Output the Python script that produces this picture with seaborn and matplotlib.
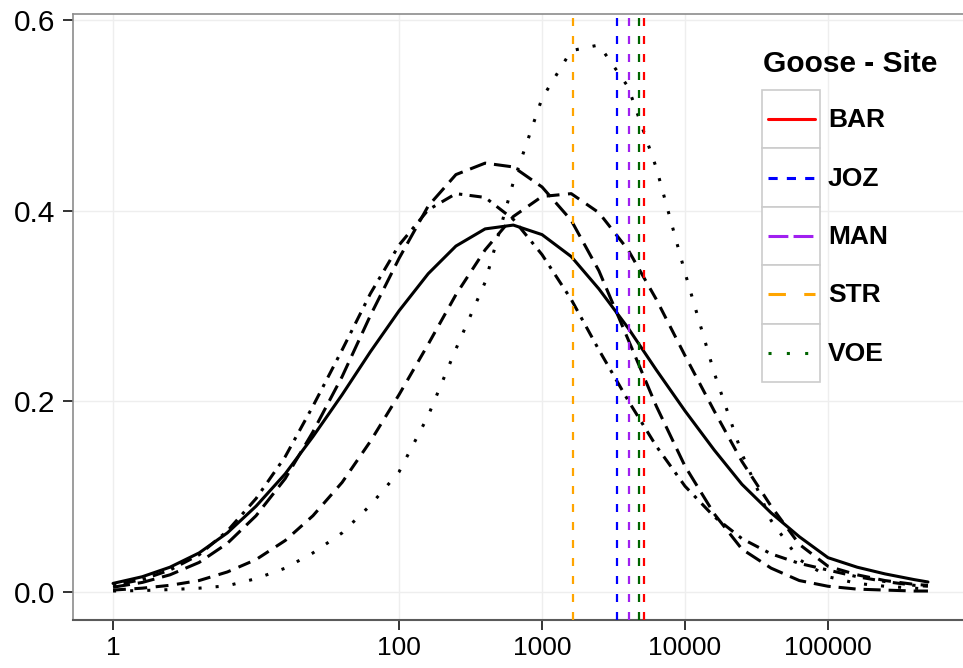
import pandas as pd
import seaborn as sns
import matplotlib.pyplot as plt
from matplotlib.patches import Rectangle
from matplotlib.ticker import NullLocator

# sites, colours and the vertical reference values
sites = ["BAR", "JOZ", "MAN", "STR", "VOE"]
site_colors = ["#FF0000", "#0000FF", "#A020F0", "#FFA500", "#006400"]
site_marks = [5170, 3350, 4060, 1650, 4770]

# density curves (x on log10 scale)
x_values = [1, 1.6, 2.5, 4, 6.3, 10, 16, 25, 40, 63, 100, 160, 250, 400, 630,
            1000, 1600, 2500, 4000, 6300, 10000, 16000, 25000, 40000, 63000,
            100000, 160000, 250000, 400000, 500000]
bar_density = [0.009, 0.016, 0.026, 0.041, 0.062, 0.090, 0.124, 0.163, 0.207, 0.252,
               0.295, 0.334, 0.363, 0.381, 0.385, 0.375, 0.352, 0.318, 0.277, 0.233,
               0.190, 0.149, 0.113, 0.083, 0.058, 0.036, 0.026, 0.019, 0.013, 0.0105]
joz_density = [0.002, 0.004, 0.007, 0.012, 0.021, 0.034, 0.054, 0.080, 0.115, 0.158,
               0.207, 0.260, 0.312, 0.359, 0.394, 0.415, 0.418, 0.398, 0.359, 0.307,
               0.248, 0.190, 0.137, 0.090, 0.050, 0.027, 0.018, 0.012, 0.008, 0.007]
man_density = [0.005, 0.010, 0.018, 0.031, 0.051, 0.080, 0.119, 0.168, 0.226, 0.290,
               0.350, 0.405, 0.438, 0.450, 0.446, 0.425, 0.390, 0.337, 0.265, 0.195,
               0.132, 0.082, 0.045, 0.025, 0.012, 0.006, 0.003, 0.002, 0.001, 0.001]
str_density = [0.007, 0.013, 0.023, 0.039, 0.064, 0.098, 0.142, 0.195, 0.254, 0.313,
               0.364, 0.401, 0.418, 0.414, 0.391, 0.354, 0.307, 0.254, 0.201, 0.153,
               0.111, 0.079, 0.056, 0.040, 0.030, 0.023, 0.016, 0.011, 0.007, 0.006]
voe_density = [0.001, 0.0015, 0.0025, 0.004, 0.0065, 0.014, 0.025, 0.041, 0.062, 0.091,
               0.126, 0.185, 0.255, 0.325, 0.430, 0.518, 0.568, 0.574, 0.530, 0.445,
               0.335, 0.230, 0.145, 0.075, 0.034, 0.016, 0.009, 0.006, 0.004, 0.003]

x_ticks = [1, 100, 1000, 10000, 100000]
x_tick_labels = ["1", "100", "1000", "10000", "100000"]
y_ticks = [0.0, 0.2, 0.4, 0.6]
y_tick_labels = ["0.0", "0.2", "0.4", "0.6"]

sns.set_style("white")
plt.rcParams["font.family"] = ["Liberation Sans", "DejaVu Sans"]
plt.rcParams["text.color"] = "black"

curves = {"BAR": bar_density, "JOZ": joz_density, "MAN": man_density,
          "STR": str_density, "VOE": voe_density}
df = pd.concat([pd.DataFrame({"x": x_values, "density": v, "site": k})
                for k, v in curves.items()], ignore_index=True)

curve_dashes = {"BAR": "", "JOZ": (4.2, 2.8), "MAN": (5.6, 2.6),
                "STR": (1.1, 2.4, 4.0, 2.4), "VOE": (1.0, 4.6)}
key_dashes = {"BAR": "", "JOZ": (3.0, 3.0), "MAN": (6.5, 1.7),
              "STR": (5.7, 6.0), "VOE": (1.0, 5.0)}

fig = plt.figure(figsize=(9.63, 6.68), dpi=100)
ax = fig.add_axes([73 / 963, 48 / 668, 896 / 963, 606 / 668])

# faint grid like ggplot
for gx in x_ticks:
    ax.axvline(gx, color="#EEEEEE", lw=1.0, zorder=0)
for gy in y_ticks:
    ax.axhline(gy, color="#EEEEEE", lw=1.0, zorder=0)

sns.lineplot(data=df, x="x", y="density", style="site", dashes=curve_dashes,
             color="black", linewidth=2.2, legend=False, errorbar=None, ax=ax)

for site, col, m in zip(sites, site_colors, site_marks):
    ax.axvline(m, color=col, lw=1.6, dashes=(3.6, 4.5), zorder=3)

ax.set_xscale("log")
ax.set_xlim(10 ** -0.28, 10 ** 5.986)
ax.set_ylim(-0.0294, 0.6065)
ax.set_xticks(x_ticks)
ax.set_xticklabels(x_tick_labels)
ax.xaxis.set_minor_locator(NullLocator())
ax.set_yticks(y_ticks)
ax.set_yticklabels(y_tick_labels)
ax.set_xlabel("")
ax.set_ylabel("")
ax.tick_params(axis="both", bottom=True, left=True, length=7.5, width=1.4,
               color="#333333", labelcolor="black", pad=4)
ax.tick_params(axis="x", labelsize=19)
ax.tick_params(axis="y", labelsize=21.5, pad=5)
for s in ax.spines.values():
    s.set_color("#8C8C8C")
    s.set_linewidth(1.2)
ax.spines["bottom"].set_color("#5A5A5A")
ax.spines["bottom"].set_linewidth(1.5)

# legend drawn in figure pixels
lax = fig.add_axes([0, 0, 1, 1], facecolor="none")
lax.set_xlim(0, 963)
lax.set_ylim(668, 0)
lax.axis("off")
lax.text(763, 64, "Goose - Site", fontsize=21.5, fontweight="bold", va="center", ha="left")
box_h = 58.4
for i, (site, col) in enumerate(zip(sites, site_colors)):
    top = 90 + i * box_h
    lax.add_patch(Rectangle((762, top), 58, box_h, facecolor="white",
                            edgecolor="#CCCCCC", lw=1.2))
    cy = top + box_h / 2
    lax.plot([768, 815], [cy, cy], color=col, lw=2.2, dashes=key_dashes[site])
    lax.text(828, cy + 1, site, fontsize=19, fontweight="bold", va="center", ha="left")

fig.savefig("out.png", dpi=100)
